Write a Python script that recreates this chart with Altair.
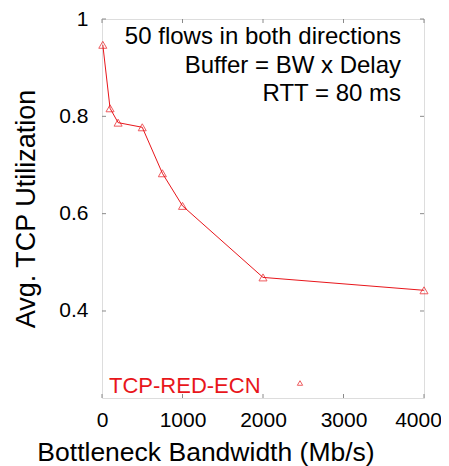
import altair as alt
import pandas as pd

# ---- data ----
bandwidth = [10, 100, 200, 500, 750, 1000, 2000, 4000]
utilization = [0.947, 0.8165, 0.787, 0.7775, 0.683, 0.616, 0.469, 0.4425]
series_name = "TCP-RED-ECN"
x_ticks = [0, 1000, 2000, 3000, 4000]
y_ticks = [0.4, 0.6, 0.8, 1.0]
annotation_lines = ["50 flows in both directions", "Buffer = BW x Delay", "RTT = 80 ms"]
x_title = "Bottleneck Bandwidth (Mb/s)"
y_title = "Avg. TCP Utilization"

RED = "#e8161b"
GRAY = "#8a8a8a"
FONT = "Liberation Sans"
W, H = 322, 379
TICK = 4

df = pd.DataFrame({"bw": bandwidth, "util": utilization, "series": series_name})
xt = pd.DataFrame({"v": x_ticks})
yt = pd.DataFrame({"v": y_ticks})

xscale = alt.Scale(domain=[0, 4000], nice=False, zero=False)
yscale = alt.Scale(domain=[0.2212, 1.0], nice=False, zero=False)

x_enc = alt.X(
    "bw:Q", scale=xscale,
    axis=alt.Axis(
        values=x_ticks, format="d", tickSize=0, domain=False, grid=False,
        labelFontSize=21, labelPadding=11, labelColor="black", labelFont=FONT,
        labelFlush=False, labelOverlap=False,
        labelOffset={"condition": {"test": "datum.value == 4000", "value": -6}, "value": 0},
        title=x_title, titleFontSize=26.5, titleFontWeight="normal", titleFont=FONT,
        titleX=103.5, titleY=62, titleAlign="center", titleBaseline="alphabetic",
        titleColor="black",
    ),
)
y_enc = alt.Y(
    "util:Q", scale=yscale,
    axis=alt.Axis(
        values=y_ticks, format="~g", tickSize=0, domain=False, grid=False,
        labelFontSize=21, labelPadding=14, labelColor="black", labelFont=FONT,
        labelFlush=False,
        title=y_title, titleFontSize=27, titleFontWeight="normal", titleFont=FONT,
        titleX=-68, titleY=H / 2, titleAngle=270, titleAlign="center",
        titleBaseline="alphabetic", titleColor="black",
    ),
)

base = alt.Chart(df)
line = base.mark_line(color=RED, strokeWidth=1).encode(x=x_enc, y=y_enc)
pts = base.mark_point(shape="triangle-up", filled=False, color=RED, size=65,
                      strokeWidth=1).encode(x="bw:Q", y="util:Q")

# inward ticks on all four sides
tb = alt.Chart(xt).mark_rule(color=GRAY, strokeWidth=1).encode(
    x=alt.X("v:Q", scale=xscale), y=alt.value(H), y2=alt.value(H - TICK))
tt = alt.Chart(xt).mark_rule(color=GRAY, strokeWidth=1).encode(
    x=alt.X("v:Q", scale=xscale), y=alt.value(0), y2=alt.value(TICK))
tl = alt.Chart(yt).mark_rule(color=GRAY, strokeWidth=1).encode(
    y=alt.Y("v:Q", scale=yscale), x=alt.value(0), x2=alt.value(TICK))
tr = alt.Chart(yt).mark_rule(color=GRAY, strokeWidth=1).encode(
    y=alt.Y("v:Q", scale=yscale), x=alt.value(W), x2=alt.value(W - TICK))

# annotation block (right aligned)
ann_layers = []
for i, txt in enumerate(annotation_lines):
    ann_layers.append(
        alt.Chart(pd.DataFrame({"t": [txt]})).mark_text(
            align="right", baseline="alphabetic", fontSize=24, font=FONT, color="black"
        ).encode(text="t:N", x=alt.value(299), y=alt.value(25 + i * 28.7))
    )

# legend entry inside the plot
leg_df = pd.DataFrame({"t": [series_name]})
leg_text = alt.Chart(leg_df).mark_text(
    align="left", baseline="alphabetic", fontSize=22, font=FONT, color=RED
).encode(text="t:N", x=alt.value(7), y=alt.value(374))
leg_pt = alt.Chart(leg_df).mark_point(
    shape="triangle-up", filled=False, color=RED, size=28, strokeWidth=1
).encode(x=alt.value(198), y=alt.value(364))

chart = alt.layer(
    line, pts, tb, tt, tl, tr, *ann_layers, leg_text, leg_pt
).properties(
    width=W, height=H,
    autosize=alt.AutoSizeParams(type="none"),
    padding={"left": 94, "top": 11, "right": 17, "bottom": 68},
).configure_view(
    stroke=GRAY, strokeWidth=1
).configure(background="white")

chart.save("out.html", embed_options={"renderer": "svg", "actions": False})
